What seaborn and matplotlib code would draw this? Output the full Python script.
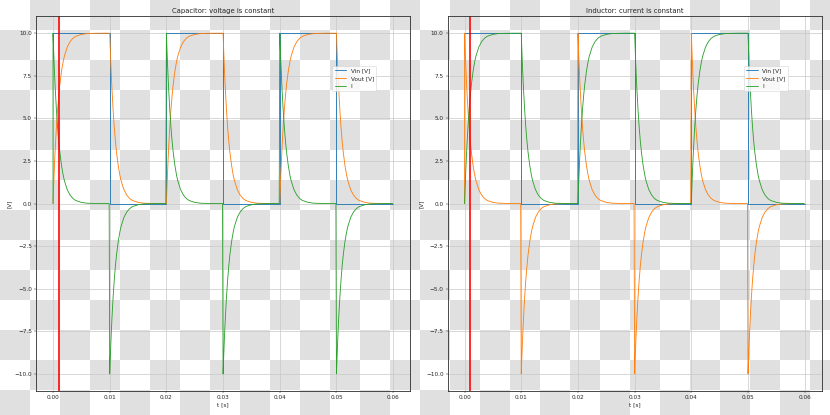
import numpy as np
import matplotlib
matplotlib.use("Agg")
import matplotlib.pyplot as plt
import seaborn as sns

# square input: level held from each edge time (steps-post)
vin_t = [0.0, 0.01, 0.02, 0.03, 0.04, 0.05, 0.06]
vin = [10.0, 0.0, 10.0, 0.0, 10.0, 0.0, 0.0]

# response read after every edge (tau ~ 1 ms)
edge_offsets = [0.0, 0.0001, 0.0002, 0.0003, 0.0004, 0.0006, 0.0008, 0.001,
                0.0012, 0.0015, 0.0018, 0.002, 0.0025, 0.003, 0.0035, 0.004,
                0.005, 0.006, 0.007, 0.0085, 0.0099]
rise = [0.0, 0.95, 1.81, 2.59, 3.30, 4.51, 5.51, 6.32, 6.99, 7.77, 8.35,
        8.65, 9.18, 9.50, 9.70, 9.82, 9.93, 9.98, 9.99, 10.0, 10.0]
decay = [10.0, 9.05, 8.19, 7.41, 6.70, 5.49, 4.49, 3.68, 3.01, 2.23, 1.65,
         1.35, 0.82, 0.50, 0.30, 0.18, 0.07, 0.02, 0.01, 0.0, 0.0]

marker_t = 0.001

# assemble the capacitor series, half period by half period
t_all = [0.0]
vout_c = [0.0]
i_c = [0.0]
for t0, level in zip(vin_t[:-1], vin[:-1]):
    t_all += [t0 + o for o in edge_offsets]
    if level > 0:
        vout_c += rise
        i_c += decay
    else:
        vout_c += decay
        i_c += [-d for d in decay]

# inductor: roles of voltage and current swapped
vout_l = i_c
i_l = vout_c

sns.set_style("ticks", {"axes.grid": True})
plt.rcParams["font.family"] = ["DejaVu Sans"]

fig, axes = plt.subplots(1, 2, figsize=(20, 10), dpi=41.5)
fig.patch.set_alpha(0)

# checker background (transparent png look)
yy, xx = np.indices((415, 830))
checker = np.where((xx // 30 + yy // 30) % 2 == 1, 224, 255).astype(np.uint8)
rgb = np.dstack([checker, checker, checker])
fig.figimage(rgb, xo=0, yo=0, origin="upper", zorder=-1)

panels = [
    (axes[0], "Capacitor: voltage is constant", vout_c, i_c),
    (axes[1], "Inductor: current is constant", vout_l, i_l),
]

for ax, title, vout, cur in panels:
    ax.set_facecolor("none")
    sns.lineplot(x=vin_t, y=vin, ax=ax, color="tab:blue", label="Vin [V]",
                 drawstyle="steps-post", estimator=None, sort=False, linewidth=1.5)
    sns.lineplot(x=t_all, y=vout, ax=ax, color="tab:orange", label="Vout [V]",
                 estimator=None, sort=False, linewidth=1.5)
    sns.lineplot(x=t_all, y=cur, ax=ax, color="tab:green", label="I",
                 estimator=None, sort=False, linewidth=1.5)
    ax.axvline(marker_t, color="red", linewidth=2.8)
    ax.set_title(title, fontsize=12)
    ax.set_xlabel("t [s]", fontsize=10)
    ax.set_ylabel("[V]", fontsize=10)
    ax.tick_params(labelsize=10)
    ax.grid(True, color="#c8c8c8", linewidth=1.2)
    for sp in ax.spines.values():
        sp.set_color("#333333")
        sp.set_linewidth(1.5)
        sp.set_visible(True)
    ax.legend(loc="upper right", bbox_to_anchor=(0.917, 0.875), fontsize=10)

fig.subplots_adjust(left=0.0434, right=0.990, bottom=0.058, top=0.961, wspace=0.10)
fig.savefig("out.png", dpi=41.5)
